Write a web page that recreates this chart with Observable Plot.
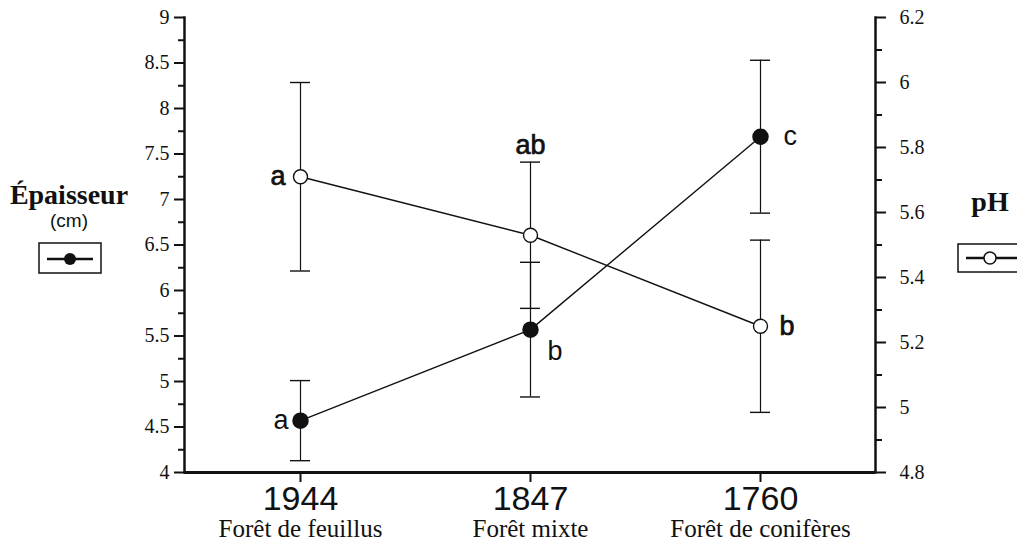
<!DOCTYPE html>
<html><head><meta charset="utf-8">
<script src="https://cdn.jsdelivr.net/npm/d3@7"></script>
<script src="https://cdn.jsdelivr.net/npm/@observablehq/plot@0.6"></script>
<style>
body{margin:0;background:#fff;}
#wrap{position:relative;width:1017px;height:548px;overflow:hidden;background:#fff;}
#wrap svg.plot{position:absolute;left:0;top:0;}
.ttl{position:absolute;font-family:"Liberation Serif",serif;font-weight:bold;color:#111;white-space:nowrap;text-align:center;line-height:1;}
.unit{position:absolute;font-family:"Liberation Sans",sans-serif;color:#111;white-space:nowrap;text-align:center;line-height:1;}
.leg{position:absolute;}
</style></head><body><div id="wrap"></div>
<script>
// ---- data ----
const sites = ["1944", "1847", "1760"];
const forests = ["Forêt de feuillus", "Forêt mixte", "Forêt de conifères"];
const epaisseur = [4.57, 5.57, 7.69];
const epaisseurErr = [0.44, 0.74, 0.84];
const epaisseurLetters = ["a", "b", "c"];
const pH = [5.71, 5.53, 5.25];
const pHErr = [0.29, 0.225, 0.265];
const pHLetters = ["a", "ab", "b"];
const leftTicks = [4, 4.5, 5, 5.5, 6, 6.5, 7, 7.5, 8, 8.5, 9];
const leftMinor = [4.25, 4.75, 5.25, 5.75, 6.25, 6.75, 7.25, 7.75, 8.25, 8.75];
const pHTicks = [4.8, 5, 5.2, 5.4, 5.6, 5.8, 6, 6.2];
const pHMinor = [4.9, 5.1, 5.3, 5.5, 5.7, 5.9, 6.1];

// map pH onto the left (épaisseur) scale
const toLeft = d3.scaleLinear([4.8, 6.2], [4, 9]);

const ep = sites.map((s, i) => ({site: s, v: epaisseur[i], lo: epaisseur[i] - epaisseurErr[i], hi: epaisseur[i] + epaisseurErr[i], letter: epaisseurLetters[i]}));
const ph = sites.map((s, i) => ({site: s, v: toLeft(pH[i]), lo: toLeft(pH[i] - pHErr[i]), hi: toLeft(pH[i] + pHErr[i]), letter: pHLetters[i]}));

const serif = "Liberation Serif, Times New Roman, serif";
const sans = "Liberation Sans, Arial, sans-serif";
const ink = "#111";
const capInset = 105;
const letterStyle = {fontFamily: sans, fontSize: 27, fill: ink};

const plot = Plot.plot({
  width: 1017, height: 548,
  marginLeft: 184, marginRight: 142, marginTop: 17, marginBottom: 76,
  x: {type: "band", domain: sites, padding: 0, axis: null},
  y: {domain: [4, 9], axis: null},
  style: {background: "white", color: ink},
  marks: [
    Plot.axisY(leftTicks, {anchor: "left", label: null, tickSize: 10, tickPadding: 5, strokeWidth: 2, fontSize: 20, fontFamily: serif,
      tickFormat: d => String(d)}),
    Plot.axisY(leftMinor, {anchor: "left", label: null, tickSize: 6, strokeWidth: 2, tickFormat: () => ""}),
    Plot.axisY(pHTicks.map(toLeft), {anchor: "right", label: null, tickSize: 10, tickPadding: 14, strokeWidth: 2, fontSize: 20, fontFamily: serif,
      tickFormat: d => String(Math.round(toLeft.invert(d) * 10) / 10)}),
    Plot.axisY(pHMinor.map(toLeft), {anchor: "right", label: null, tickSize: 6, strokeWidth: 2, tickFormat: () => ""}),
    Plot.axisX(sites, {anchor: "bottom", label: null, tickSize: 10, tickPadding: 3, strokeWidth: 2, fontSize: 34, fontFamily: sans}),
    Plot.axisX(sites, {anchor: "bottom", label: null, tickSize: 0, tickPadding: 47, fontSize: 25, fontFamily: serif,
      tickFormat: d => forests[sites.indexOf(d)]}),
    Plot.frame({anchor: "left", stroke: ink, strokeWidth: 2.5}),
    Plot.frame({anchor: "right", stroke: ink, strokeWidth: 2.5}),
    Plot.ruleY([4], {stroke: ink, strokeWidth: 3}),
    // lines
    Plot.line(ep, {x: "site", y: "v", stroke: ink, strokeWidth: 1.4}),
    Plot.line(ph, {x: "site", y: "v", stroke: ink, strokeWidth: 1.4}),
    // error bars
    Plot.ruleX(ep, {x: "site", y1: "lo", y2: "hi", stroke: ink, strokeWidth: 1.2}),
    Plot.tickY(ep, {x: "site", y: "lo", stroke: ink, strokeWidth: 1.4, insetLeft: capInset, insetRight: capInset}),
    Plot.tickY(ep, {x: "site", y: "hi", stroke: ink, strokeWidth: 1.4, insetLeft: capInset, insetRight: capInset}),
    Plot.ruleX(ph, {x: "site", y1: "lo", y2: "hi", stroke: ink, strokeWidth: 1.2}),
    Plot.tickY(ph, {x: "site", y: "lo", stroke: ink, strokeWidth: 1.4, insetLeft: capInset, insetRight: capInset}),
    Plot.tickY(ph, {x: "site", y: "hi", stroke: ink, strokeWidth: 1.4, insetLeft: capInset, insetRight: capInset}),
    // points
    Plot.dot(ep, {x: "site", y: "v", r: 7.5, fill: ink, stroke: ink}),
    Plot.dot(ph, {x: "site", y: "v", r: 7, fill: "white", stroke: ink, strokeWidth: 1.4}),
    // significance letters
    Plot.text([ep[0]], {x: "site", y: "v", text: "letter", textAnchor: "end", dx: -12, ...letterStyle}),
    Plot.text([ep[1]], {x: "site", y: "v", text: "letter", textAnchor: "start", dx: 17, dy: 22, ...letterStyle}),
    Plot.text([ep[2]], {x: "site", y: "v", text: "letter", textAnchor: "start", dx: 23, ...letterStyle}),
    Plot.text([ph[0]], {x: "site", y: "v", text: "letter", textAnchor: "end", dx: -15, ...letterStyle, stroke: ink, strokeWidth: 0.7}),
    Plot.text([ph[1]], {x: "site", y: "hi", text: "letter", dy: -17, ...letterStyle, stroke: ink, strokeWidth: 0.7}),
    Plot.text([ph[2]], {x: "site", y: "v", text: "letter", textAnchor: "start", dx: 19, ...letterStyle, stroke: ink, strokeWidth: 0.7})
  ]
});
plot.classList.add("plot");
const wrap = document.getElementById("wrap");
wrap.appendChild(plot);

function add(html) { wrap.insertAdjacentHTML("beforeend", html); }
add(`<div class="ttl" style="left:4px;top:181px;width:130px;font-size:28px;">Épaisseur</div>`);
add(`<div class="unit" style="left:4px;top:211px;width:130px;font-size:19px;">(cm)</div>`);
add(`<svg class="leg" style="left:38px;top:242px" width="64" height="32"><rect x="1" y="1" width="62" height="30" fill="white" stroke="${ink}" stroke-width="1.5"/><line x1="9" x2="55" y1="17" y2="17" stroke="${ink}" stroke-width="2.5"/><circle cx="32" cy="17" r="6" fill="${ink}"/></svg>`);
add(`<div class="ttl" style="left:955px;top:188px;width:70px;font-size:28px;">pH</div>`);
add(`<svg class="leg" style="left:957px;top:243px" width="62" height="30"><rect x="1" y="1" width="70" height="28" fill="white" stroke="${ink}" stroke-width="1.5"/><line x1="9" x2="60" y1="15" y2="15" stroke="${ink}" stroke-width="2.5"/><circle cx="33" cy="15" r="6" fill="white" stroke="${ink}" stroke-width="1.5"/></svg>`);
</script>
</body></html>
